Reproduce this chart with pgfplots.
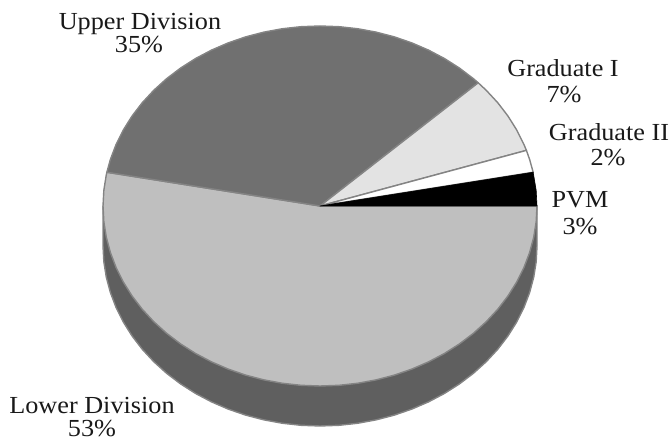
\documentclass[border=0pt]{standalone}
\usepackage{fontspec}
\setmainfont[FakeStretch=1.07]{Liberation Serif}
\usepackage{pgfplots}
\pgfplotsset{compat=1.18}
\definecolor{upperc}{HTML}{707070}
\definecolor{lowerc}{HTML}{BFBFBF}
\definecolor{gradi}{HTML}{E3E3E3}
\definecolor{sidec}{HTML}{5F5F5F}
\definecolor{edgec}{HTML}{848484}
\tikzset{lab/.style={anchor=base, font=\fontsize{24.5}{27}\selectfont, text=black!90, inner sep=0pt}}
\begin{document}
\begin{tikzpicture}
\begin{axis}[
  name=ax, anchor=south west, at={(0,0)},
  scale only axis, width=672pt, height=442pt,
  xmin=-1.4747, xmax=1.6221, ymin=-1.3111, ymax=1.1444,
  hide axis, clip=false,
  every axis plot/.append style={line width=1.4pt, line join=round},
]
% side of the pie
\addplot[fill=sidec, draw=edgec] coordinates {
(-1,0) (-1,-.2222) (-.9962,-.3094) (-.9848,-.3958) (-.9659,-.4810) (-.9397,-.5642) (-.9063,-.6448) (-.8660,-.7222)
(-.8192,-.7958) (-.7660,-.8650) (-.7071,-.9293) (-.6428,-.9882) (-.5736,-1.0414) (-.5,-1.0882) (-.4226,-1.1285)
(-.3420,-1.1619) (-.2588,-1.1881) (-.1736,-1.2070) (-.0872,-1.2184) (0,-1.2222) (.0872,-1.2184) (.1736,-1.2070)
(.2588,-1.1881) (.3420,-1.1619) (.4226,-1.1285) (.5,-1.0882) (.5736,-1.0414) (.6428,-.9882) (.7071,-.9293)
(.7660,-.8650) (.8192,-.7958) (.8660,-.7222) (.9063,-.6448) (.9397,-.5642) (.9659,-.4810) (.9848,-.3958)
(.9962,-.3094) (1,-.2222) (1,0)
} -- cycle;
% Lower Division 53%
\addplot[fill=lowerc, draw=edgec] coordinates {
(0,0) (-.9823,.1874) (-.9848,.1736) (-.9962,.0872) (-1,0) (-.9962,-.0872) (-.9848,-.1736) (-.9659,-.2588) (-.9397,-.3420)
(-.9063,-.4226) (-.8660,-.5) (-.8192,-.5736) (-.7660,-.6428) (-.7071,-.7071) (-.6428,-.7660) (-.5736,-.8192)
(-.5,-.8660) (-.4226,-.9063) (-.3420,-.9397) (-.2588,-.9659) (-.1736,-.9848) (-.0872,-.9962) (0,-1)
(.0872,-.9962) (.1736,-.9848) (.2588,-.9659) (.3420,-.9397) (.4226,-.9063) (.5,-.8660) (.5736,-.8192)
(.6428,-.7660) (.7071,-.7071) (.7660,-.6428) (.8192,-.5736) (.8660,-.5) (.9063,-.4226) (.9397,-.3420)
(.9659,-.2588) (.9848,-.1736) (.9962,-.0872) (1,0)
} -- cycle;
% Upper Division 35%
\addplot[fill=upperc, draw=edgec] coordinates {
(0,0) (.7290,.6845) (.7071,.7071) (.6428,.7660) (.5736,.8192) (.5,.8660) (.4226,.9063) (.3420,.9397) (.2588,.9659)
(.1736,.9848) (.0872,.9962) (0,1) (-.0872,.9962) (-.1736,.9848) (-.2588,.9659) (-.3420,.9397) (-.4226,.9063)
(-.5,.8660) (-.5736,.8192) (-.6428,.7660) (-.7071,.7071) (-.7660,.6428) (-.8192,.5736) (-.8660,.5) (-.9063,.4226)
(-.9397,.3420) (-.9659,.2588) (-.9823,.1874)
} -- cycle;
% Graduate I 7%
\addplot[fill=gradi, draw=edgec] coordinates {
(0,0) (.9511,.3090) (.9397,.3420) (.9063,.4226) (.8660,.5) (.8192,.5736) (.7660,.6428) (.7290,.6845)
} -- cycle;
% Graduate II 2%
\addplot[fill=white, draw=edgec] coordinates {
(0,0) (.9823,.1874) (.9659,.2588) (.9511,.3090)
} -- cycle;
% PVM 3%
\addplot[fill=black, draw=black, line width=0.6pt] coordinates {
(0,0) (1,0) (.9962,.0872) (.9823,.1874)
} -- cycle;
\node[lab] at (axis cs:-.8295,.9778) {Upper Division};
\node[lab] at (axis cs:-.8341,.85) {35\%};
\node[lab] at (axis cs:1.1198,.7167) {Graduate I};
\node[lab] at (axis cs:1.1244,.5722) {7\%};
\node[lab] at (axis cs:1.3318,.3611) {Graduate II};
\node[lab] at (axis cs:1.3272,.2222) {2\%};
\node[lab] at (axis cs:1.1982,-.0111) {PVM};
\node[lab] at (axis cs:1.1982,-.1556) {3\%};
\node[lab] at (axis cs:-1.0507,-1.15) {Lower Division};
\node[lab] at (axis cs:-1.0507,-1.2833) {53\%};
\end{axis}
\pgfresetboundingbox
\path[use as bounding box] (0,0) rectangle (672pt,442pt);
\end{tikzpicture}
\end{document}
